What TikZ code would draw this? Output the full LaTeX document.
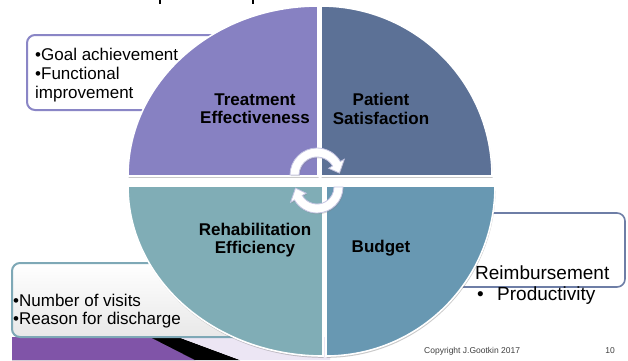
\documentclass[tikz,border=0pt]{standalone}
\usepackage{fontspec}
\setmainfont{Liberation Sans}
\usetikzlibrary{shadows}
\definecolor{qTL}{RGB}{135,129,194}
\definecolor{qTR}{RGB}{92,113,150}
\definecolor{qBL}{RGB}{128,173,182}
\definecolor{qBR}{RGB}{104,152,178}
\definecolor{boxA}{RGB}{138,134,198}
\definecolor{boxB}{RGB}{126,168,182}
\definecolor{boxC}{RGB}{110,126,166}
\definecolor{arrowline}{RGB}{196,196,226}
\definecolor{purpA}{RGB}{128,84,168}
\definecolor{purpB}{RGB}{176,136,216}
\definecolor{lavbg}{RGB}{236,230,244}
\begin{document}
\begin{tikzpicture}[x=1pt,y=-1pt,
  quad/.style={draw=white, line width=1.6pt,
    drop shadow={shadow xshift=0.6pt, shadow yshift=-1.8pt, opacity=0.35, fill=black!60}},
  bullbox/.style={rounded corners=8pt, line width=2pt, fill=white},
  lab/.style={inner sep=0pt, font=\fontsize{17}{19}\selectfont\bfseries, anchor=base},
  txt/.style={inner sep=0pt, font=\fontsize{17}{19}\selectfont, anchor=base west},
  bigtxt/.style={inner sep=0pt, font=\fontsize{19}{21}\selectfont, anchor=base west},
  small/.style={inner sep=0pt, font=\fontsize{8.5}{10}\selectfont, text=black!75},
  cyc/.style={fill=white, draw=arrowline, line width=0.8pt,
    drop shadow={shadow xshift=0.8pt, shadow yshift=-1.2pt, opacity=0.3, fill=black!50}}]
\useasboundingbox (0,0) rectangle (628,360);
\fill[white] (0,0) rectangle (628,360);

% cut-off title remnants
\draw[line width=1.3pt] (160,0) -- (160,4);
\draw[line width=1.3pt] (253,0) -- (253,4);

% bottom decoration strip
\fill[left color=purpA, middle color=purpB, right color=purpA]
  (12,337) -- (150,337) -- (195,360) -- (12,360) -- cycle;
\fill[black] (150,337) -- (178,337) -- (240,360) -- (195,360) -- cycle;
\fill[lavbg] (178,337) -- (330,337) -- (330,360) -- (240,360) -- cycle;

% bullet boxes
\draw[bullbox, draw=boxA] (27,35) rectangle (240,110);
\draw[bullbox, draw=boxB, top color=white, bottom color=black!9] (12,263) rectangle (290,337);
\draw[bullbox, draw=boxC, line width=1.6pt] (440,213) rectangle (625,287);

% quadrants
\filldraw[quad, fill=qTL] (318,176) -- (128,176)
  arc[start angle=180, end angle=90, x radius=190pt, y radius=170pt] -- cycle;
\filldraw[quad, fill=qTR] (321,176) -- (321,6)
  arc[start angle=90, end angle=0, x radius=171pt, y radius=170pt] -- cycle;
\filldraw[quad, fill=qBL] (323,186) -- (128,186)
  arc[start angle=180, end angle=270, x radius=195pt, y radius=170pt] -- cycle;
\filldraw[quad, fill=qBR] (326,186) -- (495,186)
  arc[start angle=0, end angle=-90, x radius=169pt, y radius=170pt] -- cycle;

% cycle arrows
\begin{scope}[shift={(317,175)}]
\filldraw[cyc] (180:27pt) arc[start angle=180, end angle=30, radius=27pt]
  -- (30:31.5pt) -- (5:22.5pt) -- (30:13.5pt) -- (30:18pt)
  arc[start angle=30, end angle=180, radius=18pt] -- cycle;
\end{scope}
\begin{scope}[shift={(317,187)}]
\filldraw[cyc] (0:26pt) arc[start angle=0, end angle=-150, radius=26pt]
  -- (-150:30.5pt) -- (-177:21.5pt) -- (-150:12.5pt) -- (-150:17pt)
  arc[start angle=-150, end angle=0, radius=17pt] -- cycle;
\end{scope}

% quadrant labels
\node[lab] (te1) at (255,105) {Treatment};
\node[lab] (te2) at (255,123) {Effectiveness};
\node[lab] (ps1) at (381,105) {Patient};
\node[lab] (ps2) at (381,124) {Satisfaction};
\node[lab] (re1) at (255,235) {Rehabilitation};
\node[lab] (re2) at (255,253) {Efficiency};
\node[lab] (bu) at (381,252) {Budget};

% box texts
\node[txt] (g1) at (35,60) {•Goal achievement};
\node[txt] (g2) at (35,79) {•Functional};
\node[txt] (g3) at (35,98) {improvement};
\node[txt] (n1) at (13,306) {•Number of visits};
\node[txt] (n2) at (13,324) {•Reason for discharge};
\node[bigtxt] (r1) at (475,279) {Reimbursement};
\node[bigtxt] (r2) at (477,300) {•};
\node[bigtxt] (r3) at (497,300) {Productivity};

% footer
\node[small, anchor=base west] (cp) at (424,353) {Copyright J.Gootkin 2017};
\node[small, anchor=base] (pg) at (610,353) {10};
\end{tikzpicture}
\end{document}
